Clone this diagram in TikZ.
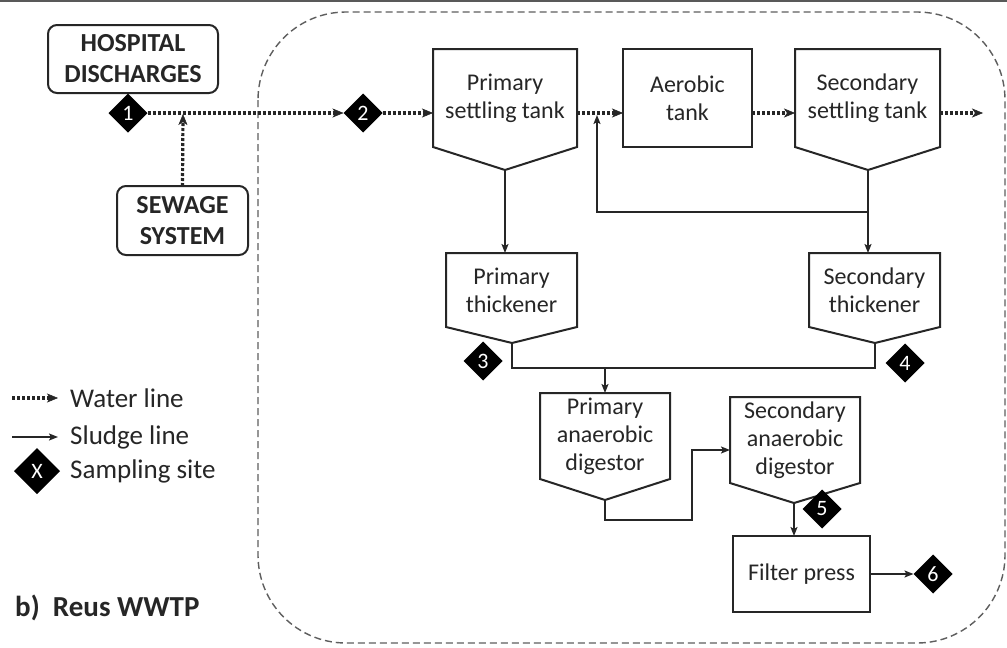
\documentclass[tikz,border=0pt]{standalone}
\usepackage{fontspec}
\setmainfont{Carlito}
\usetikzlibrary{arrows.meta,shapes.geometric}
\definecolor{ink}{HTML}{262626}
\definecolor{dashgray}{HTML}{5E5E5E}
\tikzset{
  boxline/.style={draw=ink, line width=2pt},
  tanktext/.style={inner sep=0pt, outer sep=0pt, align=center, font=\fontsize{24}{28}\selectfont, text=ink},
  srcbox/.style={draw=ink, line width=2pt, rounded corners=9pt, inner sep=0pt, outer sep=0pt, align=center, font=\bfseries\fontsize{26}{31}\selectfont, text=ink},
  water/.style={draw=ink, line width=3.2pt, dash pattern=on 3pt off 2pt, -{Stealth[length=11pt,width=9pt,inset=3pt,line width=0.5pt]}},
  sludge/.style={draw=ink, line width=2pt, -{Stealth[length=9pt,width=7pt,inset=2pt]}},
  sludgeplain/.style={draw=ink, line width=2pt},
  sampling/.style={diamond, fill=black, text=white, inner sep=0pt, outer sep=0pt, minimum width=39pt, minimum height=39pt, font=\fontsize{22}{22}\selectfont},
  legendtext/.style={anchor=west, inner sep=0pt, text=ink, font=\fontsize{27}{30}\selectfont},
  enclosure/.style={draw=dashgray, line width=1.4pt, dash pattern=on 7pt off 4pt, rounded corners=88pt}
}
\newcommand\tankshape[8]{%
  \node[tanktext, minimum width={#3-#2}, minimum height={#5-#4}] (#1) at ({(#2+#3)/2},{(#4+#5)/2}) {#8};
  \coordinate (#1-tip) at (#7,#6);
  \draw[boxline, line join=miter] (#1.north west) -- (#1.north east) -- (#1.south east) -- (#1-tip) -- (#1.south west) -- cycle;
}
\begin{document}
\begin{tikzpicture}[x=1pt,y=-1pt]
\useasboundingbox (0,0) rectangle (1007,648);
\fill[white] (0,0) rectangle (1007,648);
\fill[black!65] (0,0) rectangle (1007,2);

% enclosure
\draw[enclosure] (258,12) rectangle (1005,643);

% sources
\node[srcbox, minimum width=170pt, minimum height=68pt] (hosp) at (133,59) {HOSPITAL\\DISCHARGES};
\node[srcbox, minimum width=131pt, minimum height=69pt] (sew) at (182.5,220.5) {SEWAGE\\SYSTEM};

% process units
\tankshape{pst}{433}{577}{49}{147}{170}{505}{Primary\\settling tank}
\node[tanktext, boxline, minimum width=129pt, minimum height=98pt] (aer) at (687.5,98) {Aerobic\\tank};
\tankshape{sst}{795}{940}{49}{147}{170}{868}{Secondary\\settling tank}
\tankshape{pth}{446}{577}{253}{327}{343}{512}{Primary\\thickener}
\tankshape{sth}{809}{940}{253}{327}{343}{875}{Secondary\\thickener}
\tankshape{pad}{540}{670}{393}{479}{500}{605}{Primary\\anaerobic\\digestor}
\tankshape{sad}{730}{860}{397}{483}{503}{794}{Secondary\\anaerobic\\digestor}
\node[tanktext, boxline, minimum width=137pt, minimum height=76pt] (fp) at (801.5,574) {Filter press};

% sampling sites
\node[sampling] (d1) at (128,113) {1};
\node[sampling] (d2) at (363,113) {2};
\node[sampling] (d6) at (933,574) {6};

% water line
\coordinate (j1) at (183,113);
\coordinate (out) at (983,113);
\draw[water] (d1.east) -- (d2.west);
\draw[water, shorten >=1pt] (sew.north) -- (j1);
\draw[water] (d2.east) -- (d2.east -| pst.west);
\draw[water] (pst.east |- d2) -- (aer.west |- d2);
\draw[water] (aer.east |- d2) -- (sst.west |- d2);
\draw[water] (sst.east |- d2) -- (out);

% sludge line
\coordinate (r1) at (868,212);
\coordinate (r2) at (597,113);
\draw[sludge] (pst-tip) -- (pst-tip |- pth.north);
\draw[sludge] (sst-tip) -- (sst-tip |- sth.north);
\draw[sludge, shorten >=2pt] (r1) -| (r2);
\coordinate (m) at (605,368);
\draw[sludgeplain] (pth-tip) -- (pth-tip |- m) -- (sth-tip |- m) -- (sth-tip);
\draw[sludge] (m) -- (m |- pad.north);
\coordinate (c1) at (692,520);
\coordinate (c2) at (692,450);
\draw[sludge] (pad-tip) |- (c1) -- (c2) -- (c2 -| sad.west);
\draw[sludge] (sad-tip) -- (sad-tip |- fp.north);
\draw[sludge] (fp.east) -- (d6.west);

% sampling sites over the units
\node[sampling] (d3) at (483,361) {3};
\node[sampling] (d4) at (905,363) {4};
\node[sampling] (d5) at (822,509) {5};

% legend
\coordinate (lw1) at (12,398);
\coordinate (lw2) at (58,398);
\coordinate (ls1) at (12,437);
\coordinate (ls2) at (58,437);
\draw[water] (lw1) -- (lw2);
\node[legendtext] (lwt) at (70,398) {Water line};
\draw[sludge] (ls1) -- (ls2);
\node[legendtext] (lst) at (70,437) {Sludge line};
\node[sampling, minimum width=46pt, minimum height=46pt] (lx) at (37,471) {X};
\node[legendtext] (lxt) at (70,471) {Sampling site};

\node[anchor=west, inner sep=0pt, text=ink, font=\bfseries\fontsize{29}{32}\selectfont] (title) at (15,608) {b)\ \ Reus WWTP};
\end{tikzpicture}
\end{document}
